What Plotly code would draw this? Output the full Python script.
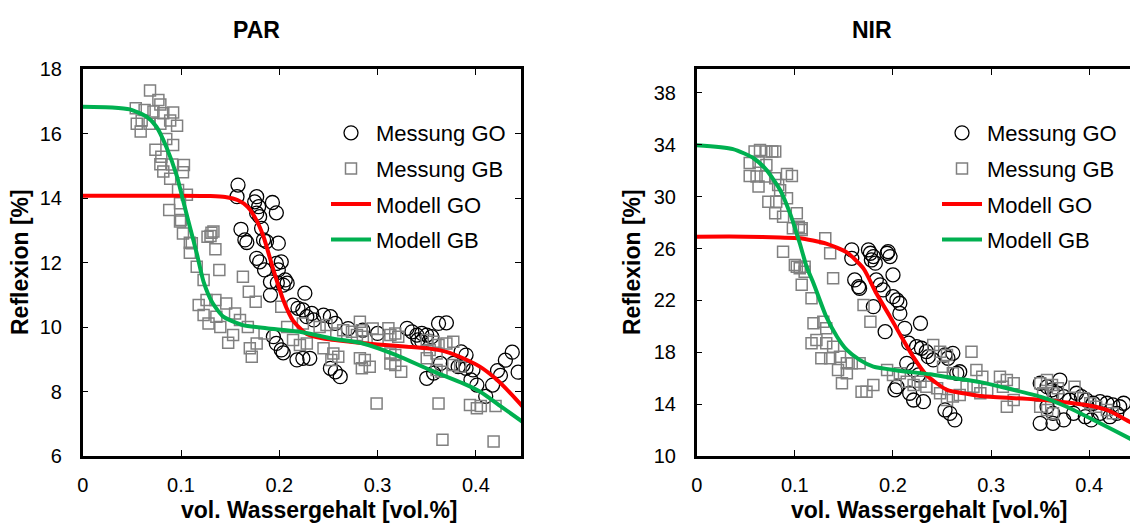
import plotly.graph_objects as go

# ---------------- PAR data ----------------
par_go_x = [0.158,0.157,0.177,0.175,0.179,0.193,0.197,0.177,0.18,0.182,0.161,0.165,0.167,0.184,0.187,0.199,
            0.177,0.18,0.185,0.197,0.202,0.199,0.191,0.198,0.206,0.204,0.191,0.226,0.208,0.214,0.219,0.224,
            0.228,0.233,0.235,0.252,0.257,0.194,0.197,0.202,0.204,0.218,0.224,0.231,0.252,0.257,0.262,0.245,
            0.27,0.285,0.3,0.33,0.335,0.34,0.345,0.35,0.355,0.362,0.37,0.341,0.345,0.35,0.357,0.364,0.377,
            0.382,0.387,0.39,0.397,0.395,0.401,0.385,0.39,0.41,0.417,0.422,0.43,0.437,0.443,0.425]
par_go_y = [14.4,14.04,14.04,13.88,13.73,13.86,13.54,13.53,13.42,13.06,13.03,12.7,12.62,12.7,12.65,12.6,
            12.13,12.02,11.77,11.97,12.02,11.77,11.4,11.37,11.46,11.3,10.99,11.05,11.36,10.68,10.58,10.53,
            10.32,10.42,10.22,10.32,10.11,9.7,9.49,9.29,9.2,8.98,9.03,9.03,8.72,8.61,8.46,10.37,
            9.95,9.9,9.8,9.96,9.85,9.75,9.8,9.75,9.7,10.11,10.13,9.6,9.55,8.41,8.57,8.87,8.87,
            8.77,8.82,8.72,8.67,8.36,8.2,9.23,9.13,7.85,8.2,8.65,8.97,9.22,8.6,8.5]

par_gb_x = [0.0685,0.077,0.079,0.054,0.063,0.072,0.082,0.092,0.055,0.06,0.068,0.079,0.089,0.096,0.059,0.085,
            0.092,0.074,0.08,0.079,0.091,0.103,0.082,0.089,0.102,0.097,0.106,0.088,0.099,0.1,0.102,0.109,
            0.131,0.135,0.127,0.109,0.099,0.111,0.133,0.13,0.116,0.139,0.163,0.123,0.169,0.176,0.118,0.126,
            0.135,0.146,0.123,0.136,0.128,0.14,0.155,0.16,0.168,0.148,0.153,0.177,0.17,0.172,0.185,0.202,
            0.208,0.214,0.221,0.228,0.224,0.241,0.248,0.258,0.265,0.245,0.255,0.26,0.253,
            0.282,0.284,0.279,0.285,0.274,0.282,0.287,0.292,0.284,0.311,0.313,0.318,0.321,0.313,0.318,0.313,
            0.318,0.324,0.35,0.357,0.362,0.37,0.377,0.353,0.36,0.35,0.36,0.365,0.377,0.384,0.299,0.362,
            0.366,0.394,0.401,0.418,0.42,0.295,0.3,0.405]
par_gb_y = [17.33,17.04,16.9,16.78,16.73,16.68,16.63,16.65,16.3,16.4,16.3,16.3,16.4,16.24,16.06,15.83,
            15.64,15.5,15.28,15.05,15.04,15.02,14.82,14.6,14.8,14.25,14.1,13.63,13.84,13.32,12.9,12.61,
            12.92,12.41,12.8,12.3,13.27,12.6,12.96,12.82,11.87,11.77,11.56,11.46,11.09,10.78,10.68,10.84,
            10.84,10.73,10.37,10.32,10.11,10.0,10.42,10.22,10.0,9.51,9.75,9.49,9.34,9.08,9.8,10.63,
            10.0,9.6,9.44,9.49,10.11,10.0,10.06,9.8,9.9,9.34,9.18,9.08,8.98,
            10.16,9.9,9.75,9.7,9.85,9.03,8.98,8.77,8.72,9.96,9.75,9.8,9.7,9.18,9.13,8.87,
            8.82,8.61,9.6,9.54,9.44,9.49,9.54,9.29,9.18,9.03,8.67,8.61,8.82,8.77,7.63,7.63,
            6.5,7.58,7.48,6.45,7.55,9.95,9.6,7.55]

par_mgo_x = [0,0.05,0.1,0.13,0.145,0.158,0.168,0.177,0.184,0.194,0.204,0.214,0.228,0.245,0.272,0.3,0.33,
             0.353,0.37,0.387,0.404,0.42,0.435,0.45]
par_mgo_y = [14.07,14.07,14.07,14.06,14.03,13.93,13.72,13.3,12.8,11.77,10.84,10.2,9.78,9.64,9.54,9.46,9.39,
             9.33,9.23,9.03,8.77,8.4,7.95,7.45]

par_mgb_x = [0,0.03,0.048,0.065,0.075,0.085,0.096,0.102,0.109,0.116,0.123,0.132,0.143,0.163,0.187,0.221,
             0.252,0.285,0.319,0.353,0.387,0.404,0.425,0.45]
par_mgb_y = [16.83,16.81,16.75,16.52,16.21,15.59,14.66,13.94,13.11,12.29,11.4,10.75,10.32,10.06,9.96,9.85,
             9.65,9.49,9.13,8.67,8.25,8.0,7.55,7.0]

# ---------------- NIR data ----------------
nir_go_x = [0.158,0.177,0.178,0.195,0.158,0.175,0.18,0.182,0.194,0.197,0.2,0.161,0.165,0.166,0.183,0.187,
            0.19,0.18,0.2,0.204,0.207,0.207,0.192,0.212,0.228,0.216,0.224,0.229,0.234,0.236,0.241,0.253,
            0.256,0.261,0.214,0.221,0.226,0.204,0.202,0.268,0.221,0.231,0.217,0.253,0.258,0.263,
            0.37,0.35,0.357,0.362,0.367,0.374,0.38,0.387,0.392,0.397,0.404,0.411,0.418,0.424,0.431,0.435,
            0.35,0.363,0.374,0.384,0.396,0.402,0.411,0.421,0.428,0.357,0.363,0.265]
nir_go_y = [25.25,25.64,25.12,25.77,25.9,25.9,25.38,24.87,25.64,25.38,23.97,23.58,23.06,22.94,23.58,23.2,
            22.81,21.52,22.29,22.04,21.78,21.0,19.59,19.85,20.24,18.7,18.43,18.31,18.05,17.66,17.41,17.79,
            17.54,17.92,17.15,16.64,16.25,15.35,15.1,16.5,14.32,14.19,14.84,13.55,13.29,12.78,
            15.86,15.61,15.35,15.1,14.84,14.58,14.32,14.84,14.58,14.32,14.07,14.19,14.07,13.94,13.8,14.07,
            12.52,12.52,12.78,13.29,13.03,12.78,13.29,13.03,13.29,13.8,13.29,16.38]

nir_gb_x = [0.0645,0.059,0.071,0.08,0.077,0.054,0.063,0.071,0.054,0.061,0.07,0.08,0.092,0.097,0.063,0.083,
            0.085,0.073,0.081,0.092,0.08,0.088,0.102,0.098,0.107,0.088,0.131,0.136,0.102,0.11,0.107,0.104,
            0.1,0.105,0.11,0.107,0.139,0.17,0.177,0.117,0.119,0.129,0.132,0.117,0.122,0.132,0.139,0.127,
            0.136,0.146,0.153,0.144,0.153,0.148,0.168,0.173,0.18,0.158,0.166,0.194,0.2,0.207,0.214,0.221,
            0.228,0.241,0.248,0.255,0.251,0.261,0.28,0.234,0.245,0.248,0.261,0.255,0.268,0.275,0.282,
            0.309,0.316,0.323,0.312,0.316,0.323,0.285,0.291,0.296,0.289,0.35,0.357,0.362,0.353,0.363,0.368,
            0.35,0.357,0.363,0.385,0.394,0.401,0.407,0.418,0.424]
nir_gb_y = [33.6,33.48,33.48,33.48,33.48,32.6,32.7,32.45,31.6,31.55,31.55,31.43,31.76,31.6,30.78,30.9,
            30.5,29.62,29.62,29.88,28.73,28.46,28.73,27.57,27.57,25.76,26.8,25.64,24.6,24.6,27.44,27.69,
            24.74,24.48,24.22,23.2,23.71,21.65,20.36,22.17,20.24,20.36,19.85,18.7,18.95,18.7,18.43,17.54,
            17.54,17.66,17.15,16.64,16.38,15.61,14.96,14.96,15.48,17.15,17.15,16.64,16.25,16.38,15.73,15.48,
            15.73,18.56,18.05,17.79,16.89,16.38,18.05,15.35,15.22,14.84,14.58,14.32,14.71,15.35,15.35,
            16.12,15.86,15.61,15.35,13.8,14.32,16.64,16.12,15.09,14.84,15.61,15.86,15.48,14.84,14.84,15.22,
            13.8,13.55,13.29,15.35,14.45,14.07,13.8,13.55,13.29]

nir_mgo_x = [0,0.05,0.085,0.105,0.132,0.153,0.17,0.183,0.197,0.207,0.221,0.234,0.255,0.275,0.292,0.343,
             0.37,0.397,0.418,0.441,0.45]
nir_mgo_y = [26.92,26.92,26.85,26.8,26.38,25.7,24.45,22.55,20.75,19.4,17.6,16.25,15.1,14.8,14.6,14.37,
             14.19,13.94,13.55,12.65,12.3]

nir_mgb_x = [0,0.037,0.058,0.071,0.085,0.095,0.105,0.112,0.119,0.132,0.143,0.153,0.166,0.18,0.204,0.238,
             0.258,0.289,0.309,0.35,0.377,0.411,0.441,0.45]
nir_mgb_y = [33.97,33.67,32.97,32.07,30.52,28.73,26.41,24.6,23.33,20.75,19.2,18.18,17.41,16.89,16.6,16.3,
             16.05,15.7,15.35,14.58,13.8,12.52,11.36,11.0]

# ---------------- figure ----------------
FONT = "Arial, Liberation Sans, sans-serif"
W, H = 1130, 527
circle = dict(symbol="circle-open", size=14, color="black", line=dict(width=1.3, color="black"))
square = dict(symbol="square-open", size=11, color="#808080", line=dict(width=1.5, color="#808080"))
red = dict(color="#FF0000", width=4, shape="spline", smoothing=0.6)
green = dict(color="#00B050", width=4, shape="spline", smoothing=0.6)

fig = go.Figure()
for xs, ys, name, ax, lg, kind, grp in [
    (par_go_x, par_go_y, "Messung GO", ("x", "y"), "legend", "c", "a"),
    (par_gb_x, par_gb_y, "Messung GB", ("x", "y"), "legend", "s", "b"),
    (par_mgo_x, par_mgo_y, "Modell GO", ("x", "y"), "legend", "r", "c"),
    (par_mgb_x, par_mgb_y, "Modell GB", ("x", "y"), "legend", "g", "d"),
    (nir_go_x, nir_go_y, "Messung GO", ("x2", "y2"), "legend2", "c", "e"),
    (nir_gb_x, nir_gb_y, "Messung GB", ("x2", "y2"), "legend2", "s", "f"),
    (nir_mgo_x, nir_mgo_y, "Modell GO", ("x2", "y2"), "legend2", "r", "g"),
    (nir_mgb_x, nir_mgb_y, "Modell GB", ("x2", "y2"), "legend2", "g", "h"),
]:
    kw = dict(x=xs, y=ys, name=name, xaxis=ax[0], yaxis=ax[1], legend=lg, legendgroup=grp)
    if kind == "c":
        kw.update(mode="markers", marker=circle)
    elif kind == "s":
        kw.update(mode="markers", marker=square)
    elif kind == "r":
        kw.update(mode="lines", line=red)
    else:
        kw.update(mode="lines", line=green)
    fig.add_trace(go.Scatter(**kw))

def px_x(p):
    return p / W

def px_y(p):
    return (H - p) / H

y_dom = [px_y(456), px_y(69)]
ax_common = dict(showgrid=False, zeroline=False, showline=True, linecolor="black", linewidth=2.5,
                 ticks="inside", ticklen=6, tickwidth=1, tickcolor="black", automargin=False,
                 tickfont=dict(family=FONT, size=20, color="black"))

fig.update_layout(
    width=W, height=H, margin=dict(l=0, r=0, t=0, b=0, autoexpand=False),
    paper_bgcolor="white", plot_bgcolor="white",
    font=dict(family=FONT, color="black"),
    xaxis=dict(domain=[px_x(82.7), px_x(521)], range=[0, 0.4459], tickvals=[0, 0.1, 0.2, 0.3, 0.4],
               ticktext=["0", "0.1", "0.2", "0.3", "0.4"], mirror="ticks", anchor="y",
               ticklabelstandoff=9, **ax_common),
    yaxis=dict(domain=y_dom, range=[6, 18], tickvals=[6, 8, 10, 12, 14, 16, 18], mirror="ticks",
               anchor="x", ticklabelstandoff=14, **ax_common),
    xaxis2=dict(domain=[px_x(696.7), 1.0], range=[0, 0.4415], tickvals=[0, 0.1, 0.2, 0.3, 0.4],
                ticktext=["0", "0.1", "0.2", "0.3", "0.4"], mirror="ticks", anchor="y2",
                ticklabelstandoff=9, **ax_common),
    yaxis2=dict(domain=y_dom, range=[10, 39.85], tickvals=[10, 14, 18, 22, 26, 30, 34, 38], mirror=False,
                anchor="x2", ticklabelstandoff=14, **ax_common),
    legend=dict(x=px_x(326), y=px_y(112), xanchor="left", yanchor="top", bgcolor="rgba(0,0,0,0)",
                font=dict(family=FONT, size=22, color="black"), tracegroupgap=4, itemwidth=40),
    legend2=dict(x=px_x(937), y=px_y(112), xanchor="left", yanchor="top", bgcolor="rgba(0,0,0,0)",
                 font=dict(family=FONT, size=22, color="black"), tracegroupgap=4, itemwidth=40),
)

annos = [
    ("<b>PAR</b>", px_x(256), px_y(30), 0, 23),
    ("<b>NIR</b>", px_x(872), px_y(30), 0, 23),
    ("<b>vol. Wassergehalt [vol.%]</b>", px_x(319), px_y(510), 0, 23),
    ("<b>vol. Wassergehalt [vol.%]</b>", px_x(930), px_y(510), 0, 23),
    ("<b>Reflexion [%]</b>", px_x(20), px_y(262), -90, 23),
    ("<b>Reflexion [%]</b>", px_x(632), px_y(262), -90, 23),
]
for text, x, y, ang, fs in annos:
    fig.add_annotation(text=text, x=x, y=y, xref="paper", yref="paper", xanchor="center", yanchor="middle",
                       showarrow=False, textangle=ang, font=dict(family=FONT, size=fs, color="black"))

fig.write_html("out.html")
